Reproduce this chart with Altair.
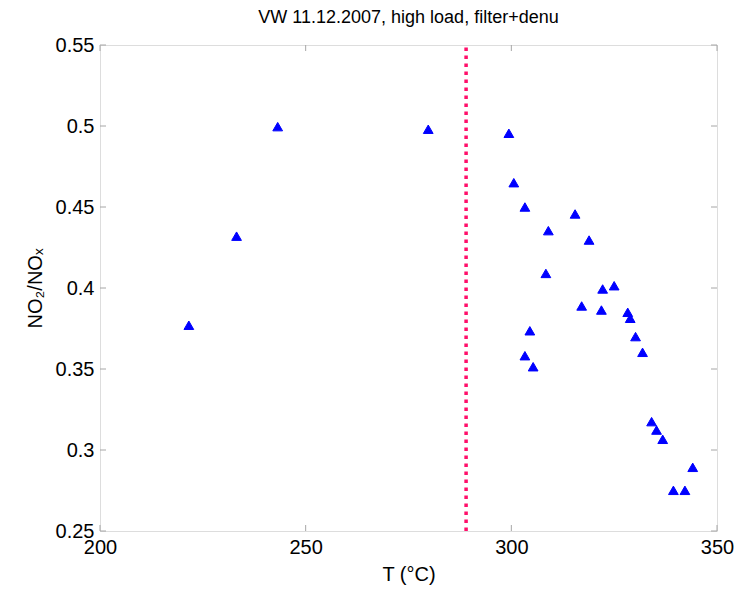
import altair as alt
import pandas as pd

# data
temperature = [221.6, 233.2, 243.2, 279.8, 299.4, 300.6, 303.3, 315.5, 309.0, 308.4,
               318.9, 322.2, 325.0, 317.1, 321.9, 328.3, 328.9, 304.5, 330.2, 331.9,
               303.3, 305.3, 334.1, 335.3, 336.8, 344.1, 339.4, 342.2]
ratio = [0.377, 0.432, 0.4996, 0.498, 0.4955, 0.465, 0.450, 0.4457, 0.4354, 0.409,
         0.4296, 0.3994, 0.4014, 0.3889, 0.3864, 0.385, 0.3813, 0.3736, 0.370, 0.3603,
         0.3582, 0.3514, 0.3175, 0.3123, 0.3066, 0.2893, 0.2751, 0.2751]
threshold = [289]
x_ticks = [200, 250, 300, 350]
y_ticks = [0.25, 0.3, 0.35, 0.4, 0.45, 0.5, 0.55]

W, H = 617, 486
FONT = "Liberation Sans"
AXIS_GRAY = "#a6a6a6"

pts = pd.DataFrame({"T": temperature, "r": ratio})
thr = pd.DataFrame({"T": threshold, "lo": [0.25], "hi": [0.55]})
xt = pd.DataFrame({"T": x_ticks})
yt = pd.DataFrame({"r": y_ticks})

xscale = alt.Scale(domain=[200, 350], nice=False, zero=False)
yscale = alt.Scale(domain=[0.25, 0.55], nice=False, zero=False)

xaxis = alt.Axis(values=x_ticks, tickSize=0, domain=False, grid=False,
                 labelFont=FONT, labelFontSize=20, labelColor="black",
                 labelPadding=6, title="T (\u00b0C)", titleFont=FONT,
                 titleFontSize=20, titleFontWeight="normal", titleColor="black",
                 titlePadding=7, labelFlush=False)
yaxis = alt.Axis(values=y_ticks, tickSize=0, domain=False, grid=False,
                 labelFont=FONT, labelFontSize=20, labelColor="black",
                 labelPadding=6, title="NO\u2082/NO\u2093", titleFont=FONT,
                 titleFontSize=20, titleFontWeight="normal", titleColor="black",
                 titlePadding=10, format="~g", labelFlush=False)

points = alt.Chart(pts).mark_point(
    shape="triangle-up", filled=True, color="#0000ff", size=95,
    stroke="#0000ff", strokeWidth=1, opacity=1
).encode(
    x=alt.X("T:Q", scale=xscale, axis=xaxis),
    y=alt.Y("r:Q", scale=yscale, axis=yaxis),
)

vline = alt.Chart(thr).mark_rule(
    color="#ff0f6a", strokeWidth=3.5, strokeDash=[3.5, 4.5], strokeCap="butt"
).encode(
    x=alt.X("T:Q", scale=xscale),
    y=alt.Y("lo:Q", scale=yscale),
    y2="hi:Q",
)

tick_style = dict(color=AXIS_GRAY, strokeWidth=1)
bottom_ticks = alt.Chart(xt).mark_rule(**tick_style).encode(
    x=alt.X("T:Q", scale=xscale), y=alt.value(H), y2=alt.value(H - 6))
top_ticks = alt.Chart(xt).mark_rule(**tick_style).encode(
    x=alt.X("T:Q", scale=xscale), y=alt.value(0), y2=alt.value(6))
left_ticks = alt.Chart(yt).mark_rule(**tick_style).encode(
    y=alt.Y("r:Q", scale=yscale), x=alt.value(0), x2=alt.value(6))
right_ticks = alt.Chart(yt).mark_rule(**tick_style).encode(
    y=alt.Y("r:Q", scale=yscale), x=alt.value(W - 6), x2=alt.value(W))

chart = alt.layer(
    bottom_ticks, top_ticks, left_ticks, right_ticks, vline, points
).properties(
    width=W, height=H,
    title=alt.TitleParams("VW 11.12.2007, high load, filter+denu",
                          font=FONT, fontSize=18, fontWeight="normal",
                          color="black", anchor="middle", offset=8),
    autosize=alt.AutoSizeParams(type="none"),
    padding={"left": 100, "top": 45, "right": 23, "bottom": 64},
).configure_view(
    stroke=AXIS_GRAY, strokeWidth=1.5
).configure(background="white")

chart.save("out.html", embed_options={"renderer": "svg", "actions": False})
